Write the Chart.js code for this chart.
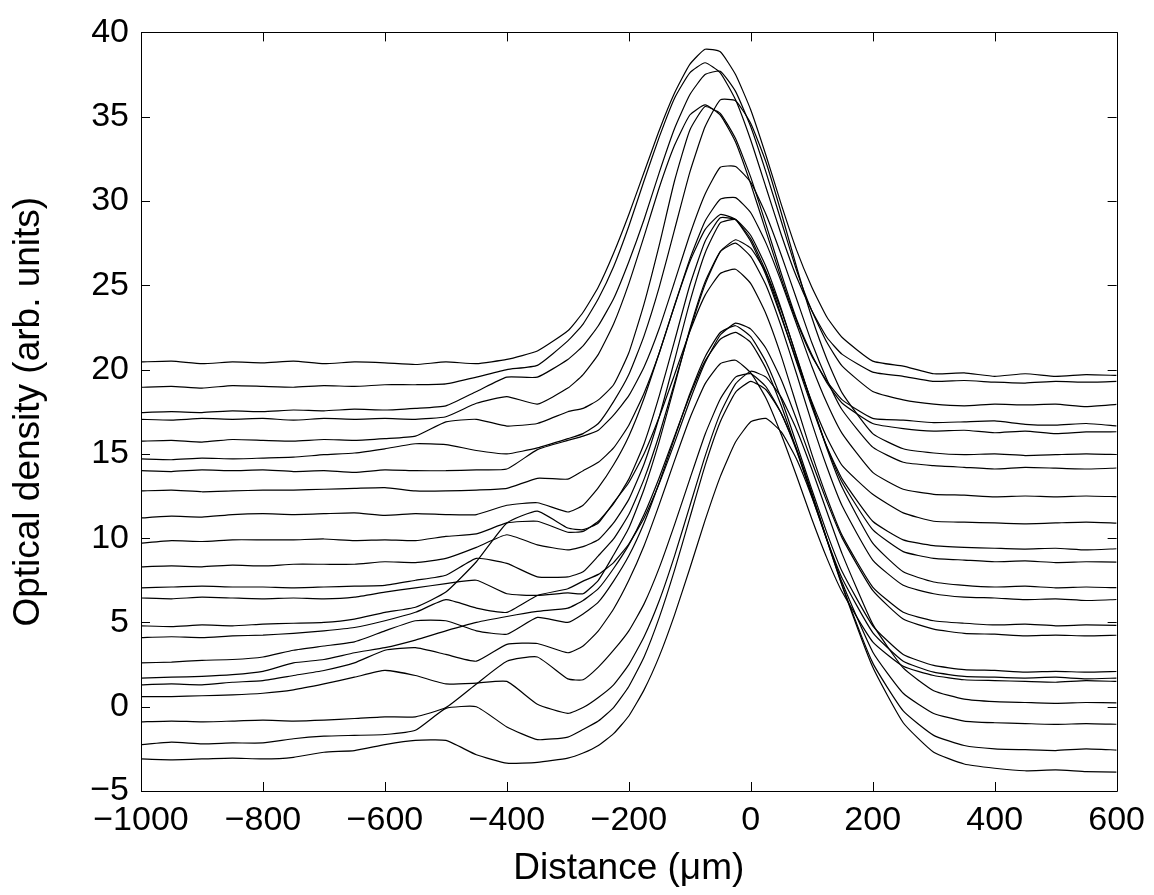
<!DOCTYPE html>
<html>
<head>
<meta charset="utf-8">
<script src="https://cdn.jsdelivr.net/npm/chart.js@4.4.1/dist/chart.umd.min.js"></script>
<style>
  html, body { margin: 0; padding: 0; background: #fff; }
  #wrap { width: 1154px; height: 895px; }
</style>
</head>
<body>
<div id="wrap"><canvas id="myChart"></canvas></div>
<script>
// distance grid (um), finer around the peak
var xs = [-1000, -950, -900, -850, -800, -750, -700, -650, -600, -550, -500, -450, -400, -350,
          -300, -275, -250, -225, -200, -175, -150, -125, -100, -75, -50, -25, 0, 25, 50, 75, 100, 125, 150,
          200, 250, 300, 350, 400, 450, 500, 550, 600];

var xTickValues = [-1000, -800, -600, -400, -200, 0, 200, 400, 600];
var yTickValues = [-5, 0, 5, 10, 15, 20, 25, 30, 35, 40];

// optical density profiles, top to bottom (left baseline order)
var p01 = [20.45, 20.5, 20.35, 20.45, 20.4, 20.5, 20.35, 20.45, 20.4, 20.3, 20.45, 20.35, 20.6, 21.1,
           22.3, 23.4, 24.9, 26.9, 29.2, 31.7, 34.2, 36.4, 38.1, 39.0, 38.85, 37.5, 35.4, 32.7, 29.8, 27.1, 24.9, 23.1, 21.9,
           20.5, 20.2, 19.75, 19.8, 19.6, 19.75, 19.6, 19.7, 19.65];
var p02 = [18.95, 19.0, 18.9, 19.05, 19.0, 18.95, 19.05, 19.0, 19.1, 19.1, 19.15, 19.55, 20.0, 20.25,
           21.7, 22.7, 24.2, 26.1, 28.5, 31.2, 33.8, 36.1, 37.6, 38.2, 37.6, 36.0, 33.6, 30.8, 28.0, 25.5, 23.5, 21.9, 20.9,
           19.85, 19.6, 19.3, 19.35, 19.25, 19.2, 19.3, 19.25, 19.3];
var p03 = [17.45, 17.5, 17.45, 17.55, 17.5, 17.6, 17.55, 17.65, 17.6, 17.7, 17.85, 18.7, 19.55, 19.55,
           20.6, 21.4, 22.6, 24.2, 26.4, 28.9, 31.7, 34.3, 36.3, 37.5, 37.7, 36.5, 34.4, 31.7, 28.8, 25.9, 23.5, 21.6, 20.2,
           18.7, 18.2, 17.95, 17.85, 17.95, 17.9, 17.95, 17.8, 17.93];
var p04 = [17.05, 17.0, 17.1, 17.05, 17.1, 17.0, 17.1, 17.05, 17.1, 17.05, 17.2, 18.0, 18.4, 17.95,
           18.9, 19.7, 20.9, 22.7, 25.1, 27.9, 30.8, 33.3, 35.1, 35.7, 35.1, 33.5, 31.0, 28.2, 25.4, 22.9, 20.8, 19.3, 18.2,
           17.1, 17.0, 16.85, 16.9, 16.95, 16.75, 16.7, 16.8, 16.66];
var p05 = [15.75, 15.8, 15.7, 15.85, 15.8, 15.75, 15.85, 15.8, 15.9, 16.05, 16.9, 17.05, 16.65, 16.8,
           17.5, 17.7, 18.2, 19.1, 21.0, 23.9, 27.4, 31.2, 34.2, 35.6, 35.2, 33.7, 31.4, 28.6, 25.7, 23.0, 20.9, 19.2, 18.0,
           16.8, 16.5, 16.35, 16.4, 16.25, 16.35, 16.2, 16.3, 16.31];
var p06 = [14.7, 14.65, 14.75, 14.7, 14.75, 14.8, 14.95, 15.05, 15.3, 15.6, 15.55, 15.2, 15.0, 15.35,
           15.9, 16.2, 16.8, 18.1, 19.7, 22.0, 24.9, 28.3, 31.7, 34.4, 36.0, 35.95, 34.6, 32.3, 29.3, 26.1, 23.1, 20.6, 18.6,
           16.2, 15.3, 15.05, 14.95, 15.0, 14.9, 14.95, 15.0, 14.96];
var p07 = [14.0, 13.95, 14.05, 14.0, 14.05, 13.95, 14.0, 13.9, 14.05, 14.0, 14.0, 14.05, 14.1, 15.25,
           15.8, 16.05, 16.4, 17.3, 18.45, 20.15, 22.45, 25.2, 28.0, 30.4, 32.0, 32.05, 31.1, 29.2, 26.8, 24.2, 21.6, 19.4, 17.6,
           15.4, 14.5, 14.3, 14.2, 14.1, 14.2, 14.15, 14.1, 14.16];
var p08 = [12.8, 12.85, 12.75, 12.8, 12.85, 12.85, 12.9, 12.95, 13.0, 12.8, 12.8, 12.85, 12.95, 13.55,
           13.5, 14.0, 14.5, 15.35, 16.7, 18.6, 21.0, 23.8, 26.55, 28.8, 30.1, 30.2, 29.3, 27.5, 25.2, 22.7, 20.2, 18.0, 16.2,
           13.9, 12.9, 12.6, 12.55, 12.45, 12.5, 12.45, 12.5, 12.46];
var p09 = [11.2, 11.3, 11.25, 11.4, 11.45, 11.4, 11.45, 11.5, 11.35, 11.45, 11.4, 11.4, 11.95, 12.1,
           11.55, 11.95, 13.0, 14.35, 16.05, 18.3, 21.0, 23.8, 26.4, 28.3, 29.2, 28.9, 27.6, 25.6, 23.1, 20.55, 18.1, 15.95, 14.3,
           12.6, 11.5, 11.0, 10.95, 10.9, 10.85, 10.9, 10.95, 10.89];
var p10 = [9.7, 9.85, 9.8, 9.9, 9.9, 9.9, 9.95, 9.85, 9.9, 9.85, 10.1, 10.25, 10.9, 11.0,
           10.35, 10.4, 11.0, 12.05, 13.5, 15.6, 18.45, 21.7, 25.0, 27.6, 29.0, 28.9, 27.75, 25.8, 23.2, 20.45, 17.8, 15.4, 13.5,
           11.0, 9.9, 9.55, 9.45, 9.4, 9.35, 9.4, 9.3, 9.37];
var p11 = [8.3, 8.35, 8.3, 8.4, 8.35, 8.45, 8.45, 8.45, 8.6, 8.55, 8.8, 9.45, 10.2, 9.6,
           9.3, 9.5, 9.9, 10.9, 12.3, 14.4, 17.2, 20.55, 24.0, 26.9, 28.7, 28.9, 27.95, 26.1, 23.6, 20.75, 17.95, 15.4, 13.3,
           10.5, 9.2, 8.8, 8.7, 8.6, 8.65, 8.55, 8.6, 8.58];
var p12 = [7.05, 7.1, 7.15, 7.1, 7.1, 7.05, 7.1, 7.15, 7.2, 7.5, 7.8, 8.8, 8.5, 7.7,
           7.7, 8.0, 8.95, 9.95, 11.4, 13.5, 16.15, 19.2, 22.3, 25.05, 27.0, 27.7, 27.2, 25.75, 23.5, 20.8, 18.0, 15.3, 13.0,
           9.7, 8.0, 7.4, 7.2, 7.1, 7.15, 7.05, 7.1, 7.06];
var p13 = [6.45, 6.4, 6.5, 6.45, 6.4, 6.45, 6.4, 6.5, 6.8, 7.05, 7.3, 7.5, 6.7, 6.6,
           6.75, 6.7, 7.5, 9.0, 10.6, 12.9, 15.75, 19.05, 22.4, 25.2, 27.0, 27.5, 26.7, 25.0, 22.55, 19.75, 16.85, 14.2, 11.9,
           8.7, 7.2, 6.7, 6.5, 6.45, 6.35, 6.4, 6.3, 6.36];
var p14 = [4.8, 4.75, 4.85, 4.8, 4.9, 4.95, 5.0, 5.2, 5.6, 5.9, 6.8, 8.6, 10.9, 11.6,
           10.6, 10.5, 10.9, 12.1, 13.3, 15.0, 17.2, 19.7, 22.25, 24.4, 25.7, 25.95, 25.1, 23.3, 20.8, 17.9, 15.0, 12.4, 10.15,
           7.1, 5.6, 5.1, 4.95, 4.85, 4.9, 4.8, 4.85, 4.83];
var p15 = [4.1, 4.15, 4.1, 4.2, 4.25, 4.35, 4.5, 4.7, 5.1, 5.6, 6.35, 5.85, 5.6, 6.6,
           7.0, 7.45, 7.85, 8.55, 9.65, 11.2, 13.25, 15.65, 18.15, 20.4, 22.05, 22.75, 22.4, 21.25, 19.4, 17.05, 14.55, 12.15, 10.0,
           6.9, 5.2, 4.6, 4.35, 4.3, 4.2, 4.25, 4.2, 4.24];
var p16 = [2.6, 2.65, 2.75, 2.8, 2.95, 3.35, 3.6, 3.85, 4.5, 5.1, 5.1, 4.5, 4.3, 5.3,
           5.0, 5.5, 6.2, 7.45, 8.95, 10.9, 13.3, 15.95, 18.55, 20.75, 22.2, 22.6, 21.95, 20.45, 18.25, 15.6, 12.9, 10.3, 8.0,
           4.8, 3.1, 2.45, 2.2, 2.15, 2.05, 2.1, 2.05, 2.09];
var p17 = [1.7, 1.75, 1.8, 1.9, 2.1, 2.6, 2.8, 3.2, 3.5, 3.95, 4.5, 5.0, 5.35, 5.65,
           5.85, 6.3, 7.0, 8.2, 9.6, 11.4, 13.6, 16.05, 18.45, 20.5, 21.8, 22.2, 21.6, 20.05, 17.85, 15.25, 12.5, 9.9, 7.6,
           4.4, 2.7, 2.05, 1.8, 1.75, 1.7, 1.75, 1.65, 1.7];
var p18 = [1.3, 1.35, 1.3, 1.45, 1.55, 1.85, 2.15, 2.6, 3.35, 3.5, 3.1, 2.7, 3.7, 3.75,
           3.2, 3.6, 4.5, 5.8, 7.5, 9.55, 12.0, 14.6, 17.1, 19.15, 20.35, 20.55, 19.8, 18.3, 16.15, 13.7, 11.15, 8.8, 6.8,
           3.85, 2.4, 1.85, 1.6, 1.55, 1.5, 1.45, 1.55, 1.5];
var p19 = [0.6, 0.6, 0.65, 0.7, 0.8, 1.0, 1.35, 1.75, 2.15, 1.85, 1.35, 1.4, 1.5, 0.15,
           -0.4, -0.05, 0.55, 1.3, 2.5, 4.15, 6.3, 8.95, 11.9, 14.85, 17.4, 19.15, 19.9, 19.55, 18.35, 16.45, 14.1, 11.55, 9.05,
           4.9, 2.3, 0.95, 0.45, 0.3, 0.25, 0.2, 0.25, 0.23];
var p20 = [-0.9, -0.85, -0.9, -0.85, -0.8, -0.85, -0.8, -0.7, -0.6, -0.6, -0.05, 1.35, 2.7, 2.95,
           1.65, 1.6, 2.35, 3.35, 4.5, 6.1, 8.25, 10.8, 13.5, 16.15, 18.25, 19.55, 19.75, 18.98, 17.4, 15.2, 12.6, 9.9, 7.35,
           3.25, 0.8, -0.4, -0.85, -0.95, -1.0, -1.05, -1.0, -1.04];
var p21 = [-2.25, -2.1, -2.2, -2.15, -2.15, -1.9, -1.75, -1.7, -1.65, -1.4, -0.1, 0.0, -1.2, -1.95,
           -1.8, -1.35, -0.85, -0.05, 1.2, 2.95, 5.3, 8.1, 11.2, 14.3, 16.9, 18.65, 19.3, 18.8, 17.4, 15.3, 12.7, 9.9, 7.2,
           2.6, -0.25, -1.7, -2.3, -2.5, -2.55, -2.6, -2.5, -2.57];
var p22 = [-3.1, -3.15, -3.1, -3.05, -3.1, -3.0, -2.7, -2.6, -2.25, -2.0, -2.0, -2.85, -3.35, -3.3,
           -3.05, -2.75, -2.3, -1.6, -0.55, 1.0, 3.0, 5.45, 8.2, 11.05, 13.65, 15.7, 16.9, 17.1, 16.3, 14.7, 12.45, 9.85, 7.15,
           2.35, -0.95, -2.7, -3.4, -3.65, -3.8, -3.75, -3.85, -3.88];

var profiles = [p01, p02, p03, p04, p05, p06, p07, p08, p09, p10, p11,
                p12, p13, p14, p15, p16, p17, p18, p19, p20, p21, p22];

var FONT = "'Liberation Sans', Arial, Helvetica, sans-serif";
var TICK_SIZE = 34;   // tick labels
var LABEL_SIZE = 37;  // axis titles, a bit larger like MATLAB

var datasets = profiles.map(function(p){
    return {
        data: xs.map(function(x, i){ return {x: x, y: p[i]}; }),
        showLine: true,
        borderColor: '#000',
        borderWidth: 1.2,
        pointRadius: 0,
        tension: 0.15,
        fill: false
    };
});

function minusSign(v){
    return String(v).replace('-', '\u2212');
}

// MATLAB style box with inward ticks on all four sides
var boxTicks = {
    id: 'boxTicks',
    afterDraw: function(chart){
        var ctx = chart.ctx, a = chart.chartArea;
        var sx = chart.scales.x, sy = chart.scales.y;
        var len = 9;
        ctx.save();
        ctx.strokeStyle = '#000';
        ctx.lineWidth = 1;
        ctx.beginPath();
        ctx.rect(Math.round(a.left) + 0.5, Math.round(a.top) + 0.5,
                 Math.round(a.right - a.left), Math.round(a.bottom - a.top));
        sx.ticks.forEach(function(t){
            var px = Math.round(sx.getPixelForValue(t.value)) + 0.5;
            ctx.moveTo(px, a.bottom); ctx.lineTo(px, a.bottom - len);
            ctx.moveTo(px, a.top);    ctx.lineTo(px, a.top + len);
        });
        sy.ticks.forEach(function(t){
            var py = Math.round(sy.getPixelForValue(t.value)) + 0.5;
            ctx.moveTo(a.left, py);  ctx.lineTo(a.left + len, py);
            ctx.moveTo(a.right, py); ctx.lineTo(a.right - len, py);
        });
        ctx.stroke();
        ctx.restore();
    }
};

var chart = new Chart(document.getElementById('myChart'), {
    type: 'scatter',
    data: { datasets: datasets },
    options: {
        responsive: true,
        maintainAspectRatio: false,
        animation: false,
        layout: { padding: { top: 24, right: 34, left: 0, bottom: 0 } },
        plugins: { legend: { display: false }, tooltip: { enabled: false } },
        scales: {
            x: {
                type: 'linear',
                min: -1000, max: 600,
                afterBuildTicks: function(s){ s.ticks = xTickValues.map(function(v){ return {value: v}; }); },
                afterFit: function(s){ s.height = 104; },
                grid: { display: false, drawTicks: false },
                border: { display: false },
                ticks: { color: '#000', padding: 9, maxRotation: 0, font: { family: FONT, size: TICK_SIZE },
                         callback: function(v){ return minusSign(v); } },
                title: { display: true, text: 'Distance (\u03bcm)', color: '#000',
                         font: { family: FONT, size: LABEL_SIZE }, padding: { top: 0, bottom: 4 } }
            },
            y: {
                type: 'linear',
                min: -5, max: 40,
                afterBuildTicks: function(s){ s.ticks = yTickValues.map(function(v){ return {value: v}; }); },
                afterFit: function(s){ s.width = 141; },
                grid: { display: false, drawTicks: false },
                border: { display: false },
                ticks: { color: '#000', padding: 12, font: { family: FONT, size: TICK_SIZE },
                         callback: function(v){ return minusSign(v); } },
                title: { display: true, text: 'Optical density (arb. units)', color: '#000',
                         font: { family: FONT, size: LABEL_SIZE }, padding: { top: 7, bottom: 0 } }
            }
        }
    },
    plugins: [boxTicks]
});
</script>
</body>
</html>
